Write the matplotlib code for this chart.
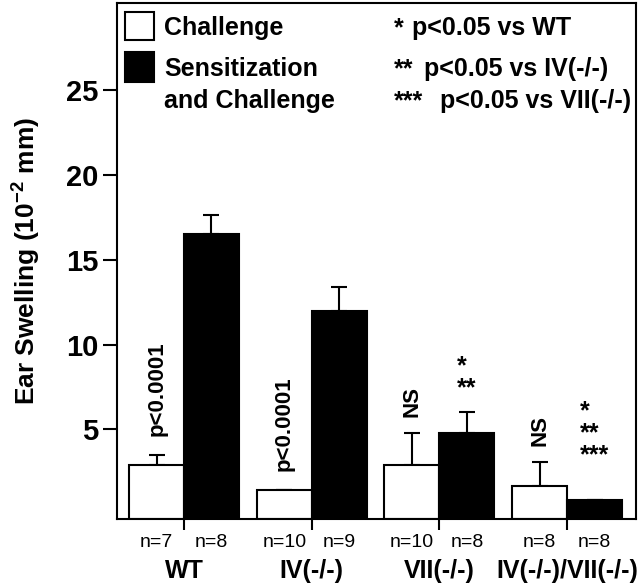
import matplotlib
matplotlib.use('Agg')

import numpy as np
from matplotlib import pyplot as plt
from matplotlib.patches import Rectangle

# values (units of 10^-2 mm)
groups = ['WT', 'IV(-/-)', 'VII(-/-)', 'IV(-/-)/VII(-/-)']
challenge = [2.9, 1.45, 2.9, 1.7]
challenge_err = [0.6, 0.0, 1.9, 1.4]
sensitized = [16.5, 12.0, 4.8, 0.85]
sensitized_err = [1.1, 1.4, 1.2, 0.0]
n_challenge = [7, 10, 10, 8]
n_sensitized = [8, 9, 8, 8]
yticks = [5, 10, 15, 20, 25]

plt.rcParams['font.family'] = ['Liberation Sans', 'DejaVu Sans']
plt.rcParams['font.weight'] = 'bold'
plt.rcParams['mathtext.fontset'] = 'custom'
plt.rcParams['mathtext.rm'] = 'Liberation Sans:bold'
plt.rcParams['mathtext.default'] = 'rm'

YMIN, YMAX = -0.27, 30.1
W = 0.43
LW = 1.5

fig = plt.figure(figsize=(6.4, 5.88), dpi=100)
ax = fig.add_axes([117/640., 1-519/588., 519/640., 516/588.])

x = np.arange(len(groups))
ch = np.array(challenge)
se = np.array(sensitized)
zeros = np.zeros(len(groups))

# bars sit on the bottom spine
ax.bar(x - W, ch - YMIN, W, bottom=YMIN, align='edge', color='white', edgecolor='black', linewidth=LW, zorder=2)
ax.bar(x, se - YMIN, W, bottom=YMIN, align='edge', color='black', edgecolor='black', linewidth=LW, zorder=2)

# upper error bars only
ax.errorbar(x - W/2, ch, yerr=[zeros, challenge_err], fmt='none', ecolor='black', elinewidth=LW, capsize=6, capthick=LW, zorder=1)
ax.errorbar(x + W/2, se, yerr=[zeros, sensitized_err], fmt='none', ecolor='black', elinewidth=LW, capsize=6, capthick=LW, zorder=1)

ax.set_xlim(-0.525, 3.54)
ax.set_ylim(YMIN, YMAX)

for s in ax.spines.values():
	s.set_linewidth(LW)

ax.set_yticks(yticks)
ax.tick_params(axis='y', length=10, width=LW, labelsize=21, pad=3.6)
ax.set_xticks(x)
ax.set_xticklabels([])
ax.tick_params(axis='x', length=8, width=LW)

ax.set_ylabel(r'Ear Swelling (10$^{-2}$ mm)', fontsize=19, fontweight='bold')
ax.yaxis.set_label_coords(-0.142, 0.5)

# n= labels and group names under the axis
xt = ax.get_xaxis_transform()
for i in range(len(groups)):
	ax.text(x[i] - W/2, -0.0543, 'n=%d' % n_challenge[i], transform=xt, ha='center', va='baseline', fontsize=14, fontweight='normal')
	ax.text(x[i] + W/2, -0.0543, 'n=%d' % n_sensitized[i], transform=xt, ha='center', va='baseline', fontsize=14, fontweight='normal')
	ax.text(x[i], -0.1143, groups[i], transform=xt, ha='center', va='baseline', fontsize=18, fontweight='bold')

# key in the upper left
ax.add_patch(Rectangle((0.0154, 0.928), 0.0559, 0.0543, transform=ax.transAxes, facecolor='white', edgecolor='black', lw=LW))
ax.add_patch(Rectangle((0.0154, 0.847), 0.0559, 0.058, transform=ax.transAxes, facecolor='black', edgecolor='black', lw=LW))
ax.text(0.0906, 0.938, 'Challenge', transform=ax.transAxes, va='baseline', fontsize=18)
ax.text(0.0906, 0.8585, 'Sensitization', transform=ax.transAxes, va='baseline', fontsize=18)
ax.text(0.0906, 0.7965, 'and Challenge', transform=ax.transAxes, va='baseline', fontsize=18)

# significance key
sig_rows = [('*', 'p<0.05 vs WT', 0.568, 0.938),
			('**', 'p<0.05 vs IV(-/-)', 0.5915, 0.8585),
			('***', 'p<0.05 vs VII(-/-)', 0.622, 0.7965)]
for stars, txt, xp, yb in sig_rows:
	ax.text(0.533, yb, stars, transform=ax.transAxes, va='baseline', fontsize=18)
	ax.text(xp, yb, txt, transform=ax.transAxes, va='baseline', fontsize=18)

# annotations over the challenge bars
for i in [0, 1]:
	ax.text(x[i] - W/2, ch[i] + challenge_err[i] + 1.1, 'p<0.0001', rotation=90, ha='center', va='bottom', fontsize=16)
for i in [2, 3]:
	ax.text(x[i] - W/2, ch[i] + challenge_err[i] + 0.95, 'NS', rotation=90, ha='center', va='bottom', fontsize=16)

# stars over the sensitized bars (baseline = last line)
ax.text(x[2] + W/2, 7.0, '*\n**', ha='center', va='baseline', multialignment='left', linespacing=0.9, fontsize=18)
ax.text(x[3] + W/2, 3.06, '*\n**\n***', ha='center', va='baseline', multialignment='left', linespacing=0.9, fontsize=18)

plt.savefig('out.png', dpi=100)
